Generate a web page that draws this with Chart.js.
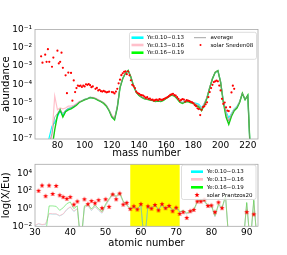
<!DOCTYPE html>
<html>
<head>
<meta charset="utf-8">
<script src="https://cdn.jsdelivr.net/npm/chart.js@4.4.0/dist/chart.umd.min.js"></script>
<style>
  html, body { margin: 0; padding: 0; background: #fff; }
  #wrap { position: relative; width: 287px; height: 255px; overflow: hidden; }
  .panel { position: absolute; left: 0; width: 287px; }
</style>
</head>
<body>
<div id="wrap">
  <div class="panel" style="top:0;height:162px"><canvas id="massChart" width="287" height="162"></canvas></div>
  <div class="panel" style="top:155px;height:100px"><canvas id="zChart" width="287" height="100"></canvas></div>
</div>
<script>
// ---- top panel: abundance vs mass number (values are log10) ----
const massNumbers = [
  72, 74, 76, 78, 80, 82, 84, 86, 88, 90,
  92, 94, 96, 98, 100, 102, 104, 106, 108, 110,
  112, 114, 116, 118, 120, 122, 124, 126, 128, 130,
  132, 134, 136, 138, 140, 142, 144, 146, 148, 150,
  152, 154, 156, 158, 160, 162, 164, 166, 168, 170,
  172, 174, 176, 178, 180, 182, 184, 186, 188, 190,
  192, 194, 196, 198, 200, 202, 204, 206, 208, 210,
  212, 214, 216, 218, 220, 222
];
const ye10Log = [
  -7.6, -6.9, -6.3, -6.1, -5.8, -5.45, -5.7, -5.45, -5.35, -5.3,
  -5.2, -5.1, -4.97, -4.9, -4.83, -4.78, -4.72, -4.73, -4.78, -4.86,
  -4.93, -5.02, -5.17, -5.42, -5.75, -5.9, -5.25, -4.18, -3.68, -3.4,
  -3.25, -3.6, -4.1, -4.43, -4.6, -4.7, -4.78, -4.81, -4.85, -4.88,
  -4.92, -4.9, -4.92, -4.86, -4.76, -4.66, -4.58, -4.63, -4.77, -4.94,
  -5.0, -4.9, -4.88, -4.96, -5.0, -5.05, -5.1, -5.3, -5.05, -4.72,
  -4.18, -3.7, -3.35, -3.26, -3.85, -4.9, -5.5, -5.85, -5.6, -5.35,
  -5.22, -4.95, -4.5, -4.83, -4.62, -8.0
];
const ye13Log = [
  -8.0, -7.6, -6.8, -4.65, -5.4, -5.3, -5.35, -5.3, -5.2, -5.2,
  -5.15, -5.05, -4.95, -4.9, -4.82, -4.78, -4.72, -4.72, -4.76, -4.84,
  -4.92, -5.0, -5.15, -5.4, -5.7, -5.85, -5.2, -4.15, -3.65, -3.38,
  -3.25, -3.58, -4.08, -4.42, -4.6, -4.7, -4.78, -4.8, -4.84, -4.86,
  -4.9, -4.88, -4.9, -4.84, -4.74, -4.64, -4.56, -4.62, -4.76, -4.93,
  -5.0, -4.92, -4.9, -4.97, -5.0, -5.1, -5.18, -5.35, -5.05, -4.7,
  -4.15, -3.68, -3.33, -3.25, -3.85, -4.95, -5.6, -6.0, -5.65, -5.38,
  -5.25, -4.95, -4.48, -4.82, -4.62, -8.0
];
const ye16Log = [
  -8.0, -8.0, -7.5, -6.5, -5.7, -5.4, -5.8, -5.5, -5.4, -5.35,
  -5.25, -5.15, -5.0, -4.92, -4.85, -4.8, -4.73, -4.75, -4.8, -4.88,
  -4.95, -5.05, -5.2, -5.45, -5.8, -5.95, -5.3, -4.2, -3.7, -3.4,
  -3.25, -3.6, -4.1, -4.45, -4.62, -4.72, -4.8, -4.83, -4.87, -4.9,
  -4.95, -4.92, -4.95, -4.88, -4.78, -4.68, -4.6, -4.65, -4.8, -4.98,
  -5.05, -4.97, -4.95, -5.02, -5.05, -5.15, -5.25, -5.45, -5.15, -4.75,
  -4.2, -3.7, -3.35, -3.25, -3.9, -5.0, -5.8, -6.2, -5.75, -5.45,
  -5.3, -5.0, -4.5, -4.85, -4.6, -8.0
];
const avgLog = [
  -8.0, -7.2, -6.7, -5.8, -5.6, -5.38, -5.6, -5.42, -5.32, -5.28,
  -5.2, -5.1, -4.97, -4.91, -4.84, -4.79, -4.73, -4.74, -4.78, -4.86,
  -4.94, -5.03, -5.18, -5.43, -5.75, -5.9, -5.25, -4.18, -3.68, -3.39,
  -3.25, -3.6, -4.1, -4.44, -4.61, -4.71, -4.79, -4.82, -4.86, -4.88,
  -4.93, -4.9, -4.93, -4.86, -4.76, -4.66, -4.58, -4.64, -4.78, -4.95,
  -5.02, -4.93, -4.91, -4.98, -5.02, -5.1, -5.18, -5.37, -5.08, -4.72,
  -4.18, -3.69, -3.34, -3.25, -3.87, -4.95, -5.63, -6.02, -5.67, -5.4,
  -5.26, -4.97, -4.49, -4.84, -4.62, -8.0
];
const sneden08Mass = [
  68, 69, 71, 72, 73, 74, 76, 77, 80, 81, 82, 83, 84, 86, 87, 88, 90, 91, 92, 93,
  94, 95, 96, 97, 98, 99, 100, 101, 102, 103, 104, 105, 106, 108, 109, 110, 111, 112, 113, 114,
  115, 116, 117, 118, 120, 121, 122, 123, 124, 125, 126, 127, 128, 129, 130, 131, 132, 133, 134, 135,
  136, 137, 138, 139, 140, 141, 142, 143, 144, 145, 146, 147, 148, 149, 150, 151, 152, 153, 154, 155,
  156, 157, 158, 159, 160, 161, 162, 163, 164, 165, 166, 167, 168, 169, 170, 171, 172, 173, 174, 175,
  176, 177, 178, 179, 180, 181, 182, 183, 184, 185, 186, 187, 188, 189, 190, 191, 192, 193, 194, 195,
  196, 197, 198, 199, 200, 201, 202, 203, 204, 205, 206, 207, 208, 209, 210
];
const sneden08Log = [
  -2.47, -2.82, -2.38, -2.77, -2.08, -2.77, -3.04, -2.54, -2.16, -2.86, -2.77, -2.27, -3.1, -3.51, -4.49, -3.36, -3.38, -4.9, -3.79, -4.43,
  -4.21, -4.07, -4.1, -4.08, -4.15, -4.08, -4.12, -4.0, -4.03, -3.99, -4.05, -4.16, -4.12, -4.25, -4.2, -4.34, -4.3, -4.38, -4.4, -4.36,
  -4.4, -4.44, -4.43, -4.4, -4.43, -4.45, -4.5, -4.4, -4.25, -3.95, -3.75, -3.5, -3.4, -3.32, -3.29, -3.45, -3.3, -3.51, -3.78, -4.03,
  -4.1, -4.21, -4.4, -4.48, -4.52, -4.58, -4.6, -4.62, -4.68, -4.75, -4.71, -4.8, -4.78, -4.85, -4.84, -4.9, -4.86, -4.84, -4.88, -4.82,
  -4.84, -4.86, -4.81, -4.78, -4.74, -4.71, -4.65, -4.58, -4.55, -4.52, -4.6, -4.62, -4.71, -4.8, -4.9, -4.86, -4.81, -4.84, -4.95, -4.87,
  -4.9, -4.92, -4.96, -4.99, -5.05, -5.14, -5.2, -5.32, -5.36, -5.69, -5.4, -5.25, -5.21, -5.1, -4.99, -4.7, -4.43, -4.21, -4.03, -3.88,
  -3.84, -3.8, -3.84, -4.07, -4.34, -4.8, -5.08, -5.0, -5.27, -5.45, -5.47, -5.25, -4.45, -4.08, -4.25
];
const massTicks = [80, 100, 120, 140, 160, 180, 200, 220];
const abundanceTicks = [1e-7, 1e-6, 1e-5, 1e-4, 1e-3, 1e-2, 1e-1];
const abundanceLabels = ['10⁻⁷', '10⁻⁶', '10⁻⁵', '10⁻⁴', '10⁻³', '10⁻²', '10⁻¹'];

// ---- bottom panel: log(X/Eu) vs atomic number (values are log10) ----
const atomicNumbers = [
  30, 31, 32, 33, 34, 35, 36, 37, 38, 39,
  40, 41, 42, 43, 44, 45, 46, 47, 48, 49,
  50, 51, 52, 53, 54, 55, 56, 57, 58, 59,
  60, 61, 62, 63, 64, 65, 66, 67, 68, 69,
  70, 71, 72, 73, 74, 75, 76, 77, 78, 79,
  80, 81, 82, 83, 84, 85, 86, 87, 88, 89,
  90, 91, 92, 93
];
const ye10XEuLog = [
  -1.93, -1.73, -1.83, -1.78, -0.58, -0.63, -0.63, -0.83, -0.63, -0.13,
  0.17, -0.33, -0.03, -4, 0.12, 0.32, -0.23, 0.22, -0.18, -0.53,
  0.32, 0.97, 1.57, 1.27, 1.67, 0.72, 0.32, -0.12, 0.18, -0.17,
  0.38, -4, 0.23, 0.0, 0.43, -0.23, 0.43, -0.13, 0.33, -0.32,
  0.13, -0.42, -0.28, -0.62, -0.42, -0.22, 0.67, 0.92, 0.77, 0.22,
  0.27, -0.93, 0.37, -0.03, 1.32, -4, -4, -4, -4, -4,
  0.57, -4, 0.87, -4
];
const ye13XEuLog = [
  -1.9, -1.7, -1.8, -1.75, -0.55, -0.6, -0.6, -0.8, -0.6, -0.1,
  0.2, -0.3, 0.0, -4, 0.15, 0.35, -0.2, 0.25, -0.15, -0.5,
  0.35, 1.0, 1.6, 1.3, 1.7, 0.75, 0.35, -0.1, 0.2, -0.15,
  0.4, -4, 0.25, 0.0, 0.45, -0.22, 0.45, -0.12, 0.35, -0.3,
  0.15, -0.4, -0.25, -0.6, -0.4, -0.2, 0.7, 0.95, 0.8, 0.25,
  0.3, -0.9, 0.4, 0.0, 1.35, -4, -4, -4, -4, -4,
  0.6, -4, 0.9, -4
];
const ye16XEuLog = [
  -3, -3, -3, -3, 0.3, 0.3, 0.25, -0.2, 0.1, 0.55,
  0.75, 0.0, 0.3, -4, 0.3, 0.5, -0.05, 0.4, 0.0, -0.35,
  0.5, 1.1, 1.7, 1.4, 1.8, 0.85, 0.45, -0.05, 0.25, -0.1,
  0.45, -4, 0.3, 0.0, 0.5, -0.2, 0.5, -0.1, 0.4, -0.25,
  0.2, -0.35, -0.2, -0.5, -0.3, -0.1, 0.8, 1.05, 0.9, 0.35,
  0.4, -0.8, 0.5, 0.1, 1.45, -4, -4, -4, -4, -4,
  0.7, -4, 1.0, -4
];
const prantzosZ = [
  31, 32, 33, 34, 35, 36, 37, 38, 39, 40, 41, 42,
  44, 45, 46, 47, 48, 49, 50, 51, 52, 53, 54, 55, 56, 57, 58, 59, 60,
  62, 63, 64, 65, 66, 67, 68, 69, 70, 71, 72, 73, 74, 75, 76, 77, 78, 79, 80, 81, 82, 83,
  90, 92
];
const prantzosLog = [
  2.0, 2.6, 1.4, 2.6, 1.65, 2.55, 1.5, 1.3, 1.1, 1.3, 0.45, 0.8,
  1.05, 0.5, 0.85, 0.6, 0.95, 0.05, 1.05, 0.2, 1.6, 1.05, 1.7, 0.45, 0.65, -0.05, 0.25, -0.1, 0.5,
  0.25, 0.0, 0.4, -0.2, 0.5, 0.05, 0.3, -0.3, 0.1, -0.6, -0.4, -1.05, -0.3, -0.15, 0.8, 0.8, 1.0, 0.3, 0.35, -0.4, 0.7, 0.05,
  -0.4, -0.65
];
const atomicTicks = [30, 40, 50, 60, 70, 80, 90];
const xeuTicks = [1e-2, 1, 1e2, 1e4];
const xeuLabels = ['10⁻²', '10⁰', '10²', '10⁴'];
const lanthanideBand = [57, 71];

// ---- helpers ----
Chart.defaults.font.family = "'DejaVu Sans', sans-serif";
Chart.defaults.color = '#000';
Chart.defaults.animation = false;

const toPoints = (xs, logs) => xs.map((x, i) => ({ x: x, y: Math.pow(10, logs[i]) }));

const line = (label, xs, logs, color, width) => ({
    label: label,
    data: toPoints(xs, logs),
    showLine: true,
    borderColor: color,
    borderWidth: width,
    pointRadius: 0,
    fill: false,
    tension: 0
});

const makeStar = (r, color) => {
    const c = document.createElement('canvas');
    const s = Math.ceil(r * 2) + 2;
    c.width = s; c.height = s;
    const g = c.getContext('2d');
    g.fillStyle = color;
    g.beginPath();
    for (let k = 0; k < 10; k++) {
        const rr = k % 2 ? r * 0.42 : r;
        const a = -Math.PI / 2 + k * Math.PI / 5;
        g.lineTo(s / 2 + rr * Math.cos(a), s / 2 + rr * Math.sin(a));
    }
    g.closePath();
    g.fill();
    return c;
};
const starImg = makeStar(2.7, '#ff0000');

const framePlugin = {
    id: 'frame',
    afterDatasetsDraw(chart) {
        const { ctx, chartArea: a } = chart;
        ctx.save();
        ctx.strokeStyle = '#a8a8a8';
        ctx.lineWidth = 0.8;
        ctx.strokeRect(a.left, a.top, a.right - a.left, a.bottom - a.top);
        ctx.restore();
    }
};

// legend box drawn on top of the plot
const drawLegend = (ctx, box, items) => {
    ctx.save();
    ctx.fillStyle = 'rgba(255,255,255,0.8)';
    ctx.strokeStyle = '#d4d4d4';
    ctx.lineWidth = 0.8;
    ctx.beginPath();
    ctx.roundRect(box.x, box.y, box.w, box.h, 2);
    ctx.fill();
    ctx.stroke();
    ctx.font = "5.5px 'DejaVu Sans'";
    ctx.textBaseline = 'middle';
    items.forEach(it => {
        if (it.kind === 'line') {
            ctx.strokeStyle = it.color;
            ctx.lineWidth = it.width;
            ctx.beginPath();
            ctx.moveTo(it.x, it.y);
            ctx.lineTo(it.x + 12, it.y);
            ctx.stroke();
        } else if (it.kind === 'dot') {
            ctx.fillStyle = it.color;
            ctx.beginPath();
            ctx.arc(it.x + 6.5, it.y, 1, 0, Math.PI * 2);
            ctx.fill();
        } else {
            ctx.drawImage(starImg, it.x + 6 - starImg.width / 2, it.y - starImg.height / 2);
        }
        ctx.fillStyle = '#000';
        ctx.fillText(it.label, it.tx, it.y + 0.3);
    });
    ctx.restore();
};

const axisTitle = (text) => ({ display: true, text: text, font: { size: 10 }, padding: { top: 0, bottom: 0 } });

// ---- top chart ----
new Chart(document.getElementById('massChart'), {
    type: 'scatter',
    data: {
        datasets: [
            {
                label: 'solar Sneden08',
                data: toPoints(sneden08Mass, sneden08Log),
                pointRadius: 1.1,
                pointBackgroundColor: '#ff0000',
                pointBorderWidth: 0
            },
            line('average', massNumbers, avgLog, '#8c8c8c', 0.7),
            line('Ye:0.16~0.19', massNumbers, ye16Log, '#12d012', 1.4),
            line('Ye:0.13~0.16', massNumbers, ye13Log, '#ffc0cb', 1.2),
            line('Ye:0.10~0.13', massNumbers, ye10Log, '#00ffff', 1.2)
        ]
    },
    options: {
        responsive: false,
        events: [],
        layout: { padding: { top: 29.5, right: 29, bottom: 0, left: 0 } },
        plugins: { legend: { display: false }, tooltip: { enabled: false } },
        scales: {
            x: {
                type: 'linear',
                min: 63.5,
                max: 227.5,
                afterBuildTicks: s => { s.ticks = massTicks.map(v => ({ value: v })); },
                afterFit: s => { s.height = 23; },
                grid: { display: false, drawTicks: false },
                border: { display: false },
                ticks: { autoSkip: false, maxRotation: 0, padding: 0.8, font: { size: 9 } },
                title: { display: true, text: 'mass number', font: { size: 10 }, padding: { top: 0, bottom: 2.7 } }
            },
            y: {
                type: 'logarithmic',
                min: 1e-7,
                max: 1e-1,
                afterBuildTicks: s => { s.ticks = abundanceTicks.map(v => ({ value: v })); },
                afterFit: s => { s.width = 35; },
                grid: { display: false, drawTicks: false },
                border: { display: false },
                ticks: { autoSkip: false, padding: 3, font: { size: 9 }, callback: (v, i) => abundanceLabels[i] },
                title: axisTitle('abundance')
            }
        }
    },
    plugins: [framePlugin, {
        id: 'massLegend',
        afterDraw(chart) {
            drawLegend(chart.ctx, { x: 129.5, y: 32.3, w: 127, h: 27 }, [
                { kind: 'line', color: '#00ffff', width: 2.6, x: 131.5, y: 37.7, tx: 147, label: 'Ye:0.10~0.13' },
                { kind: 'line', color: '#ffc0cb', width: 2.6, x: 131.5, y: 45, tx: 147, label: 'Ye:0.13~0.16' },
                { kind: 'line', color: '#00ff00', width: 2.6, x: 131.5, y: 52.7, tx: 147, label: 'Ye:0.16~0.19' },
                { kind: 'line', color: '#8c8c8c', width: 0.8, x: 194, y: 37.7, tx: 210.5, label: 'average' },
                { kind: 'dot', color: '#ff0000', x: 194, y: 45, tx: 210.5, label: 'solar Sneden08' }
            ]);
        }
    }]
});

// ---- bottom chart ----
new Chart(document.getElementById('zChart'), {
    type: 'scatter',
    data: {
        datasets: [
            {
                label: 'solar Prantzos20',
                data: toPoints(prantzosZ, prantzosLog),
                pointStyle: starImg,
                pointRadius: 2.7
            },
            line('Ye:0.16~0.19', atomicNumbers, ye16XEuLog, 'rgba(60,220,60,0.55)', 1),
            line('Ye:0.13~0.16', atomicNumbers, ye13XEuLog, '#ffc0cb', 1),
            line('Ye:0.10~0.13', atomicNumbers, ye10XEuLog, 'rgba(0,255,255,0.5)', 0.8)
        ]
    },
    options: {
        responsive: false,
        events: [],
        layout: { padding: { top: 9.3, right: 29, bottom: 0, left: 0 } },
        plugins: { legend: { display: false }, tooltip: { enabled: false } },
        scales: {
            x: {
                type: 'linear',
                min: 30,
                max: 93.2,
                afterBuildTicks: s => { s.ticks = atomicTicks.map(v => ({ value: v })); },
                afterFit: s => { s.height = 28.7; },
                grid: { display: false, drawTicks: false },
                border: { display: false },
                ticks: { autoSkip: false, maxRotation: 0, padding: 1.3, font: { size: 9 } },
                title: { display: true, text: 'atomic number', font: { size: 10 }, padding: { top: 0, bottom: 6 } }
            },
            y: {
                type: 'logarithmic',
                min: 1e-2,
                max: 1e5,
                afterBuildTicks: s => { s.ticks = xeuTicks.map(v => ({ value: v })); },
                afterFit: s => { s.width = 35; },
                grid: { display: false, drawTicks: false },
                border: { display: false },
                ticks: { autoSkip: false, padding: 3, font: { size: 9 }, callback: (v, i) => xeuLabels[i] },
                title: axisTitle('log(X/Eu)')
            }
        }
    },
    plugins: [framePlugin, {
        id: 'band',
        beforeDatasetsDraw(chart) {
            const { ctx, chartArea: a, scales: { x } } = chart;
            const x1 = x.getPixelForValue(lanthanideBand[0]);
            const x2 = x.getPixelForValue(lanthanideBand[1]);
            ctx.save();
            ctx.fillStyle = '#ffff00';
            ctx.fillRect(x1, a.top, x2 - x1, a.bottom - a.top);
            ctx.restore();
        }
    }, {
        id: 'zLegend',
        afterDraw(chart) {
            drawLegend(chart.ctx, { x: 181.5, y: 10, w: 74.5, h: 34.5 }, [
                { kind: 'line', color: '#00ffff', width: 2.6, x: 191, y: 16.7, tx: 206.7, label: 'Ye:0.10~0.13' },
                { kind: 'line', color: '#ffc0cb', width: 2.6, x: 191, y: 24.3, tx: 206.7, label: 'Ye:0.13~0.16' },
                { kind: 'line', color: '#00ff00', width: 2.6, x: 191, y: 32.3, tx: 206.7, label: 'Ye:0.16~0.19' },
                { kind: 'star', x: 191, y: 40, tx: 206.7, label: 'solar Prantzos20' }
            ]);
        }
    }]
});
</script>
</body>
</html>
